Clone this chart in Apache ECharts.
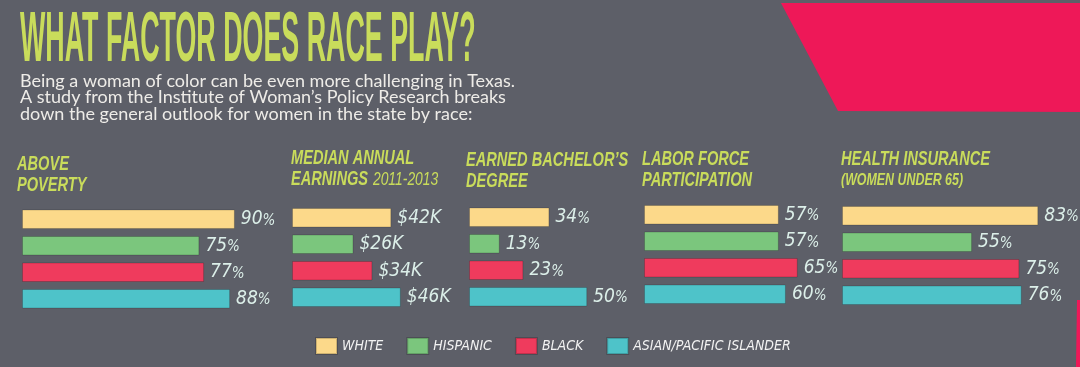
<!DOCTYPE html>
<html><head><meta charset="utf-8">
<script src="https://cdn.jsdelivr.net/npm/echarts@6/dist/echarts.min.js"></script>
<style>html,body{margin:0;padding:0;background:#5d5f68}#c{width:1080px;height:367px}</style>
</head><body><div id="c"></div>
<script>
// ---- data ----
const races = ['WHITE', 'HISPANIC', 'BLACK', 'ASIAN/PACIFIC ISLANDER'];
const raceColors = ['#fcd98a', '#7bc67d', '#ef3b5d', '#4ec3c9'];
const abovePoverty = [90, 75, 77, 88];          // %
const medianEarnings = [42, 26, 34, 46];        // $ thousands, 2011-2013
const bachelorsDegree = [34, 13, 23, 50];       // %
const laborForce = [57, 57, 65, 60];            // %
const healthInsurance = [83, 55, 75, 76];       // % (women under 65)
const panelPrefix = ['', '$', '', '', ''];
const panelSuffix = ['%', 'K', '%', '%', '%'];
const panelTitleText = [
  '{b|ABOVE}\n{b|POVERTY}',
  '{b|MEDIAN ANNUAL}\n{b|EARNINGS}  {l|2011-2013}',
  '{b|EARNED BACHELOR\u2019S}\n{b|DEGREE}',
  '{b|LABOR FORCE}\n{b|PARTICIPATION}',
  '{b|HEALTH INSURANCE}\n{s|(WOMEN UNDER 65)}'
];
const mainTitle = 'WHAT FACTOR DOES RACE PLAY?';
const subtitle = 'Being a woman of color can be even more challenging in Texas.\nA study from the Institute of Woman\u2019s Policy Research breaks\ndown the general outlook for women in the state by race:';

const panels = [abovePoverty, medianEarnings, bachelorsDegree, laborForce, healthInsurance];

// ---- layout ----
const SANS = '"Liberation Sans",Arial,sans-serif';
const COND = '"DejaVu Sans Condensed","Liberation Sans Narrow",sans-serif';
const LIME = '#c9dc5b';
const panelLeft = [22, 292, 469, 644, 842];
const panelCenter = [259, 257.5, 257, 254.5, 255.5];
const panelWidth = 236.5;
const titleX = [17, 291, 466, 642, 841];
const titleY = [154.5, 148.5, 150.5, 149, 149.5];

const titleRich = {
  b: {fontFamily: SANS, fontStyle: 'italic', fontWeight: 'bold', fontSize: 20, fill: LIME, lineHeight: 20.8},
  l: {fontFamily: SANS, fontStyle: 'italic', fontWeight: 'normal', fontSize: 19, fill: LIME, lineHeight: 20.8},
  s: {fontFamily: SANS, fontStyle: 'italic', fontWeight: 'bold', fontSize: 17, fill: LIME, lineHeight: 20.8}
};
const titleGraphics = panelTitleText.map((t, i) => ({
  type: 'text', x: titleX[i], y: titleY[i], scaleX: 0.73,
  style: {text: t, rich: titleRich, fill: LIME, verticalAlign: 'top', align: 'left'}
}));

const grids = [], xAxes = [], yAxes = [], series = [];
panels.forEach((vals, i) => {
  grids.push({left: panelLeft[i], width: panelWidth, top: panelCenter[i] - 50, height: 100});
  xAxes.push({gridIndex: i, type: 'value', min: 0, max: 100, show: false});
  yAxes.push({gridIndex: i, type: 'category', data: ['v'], show: false});
  vals.forEach((v, r) => {
    series.push({
      type: 'bar', name: races[r], xAxisIndex: i, yAxisIndex: i,
      data: [v], barWidth: 19.5, barGap: '36%',
      itemStyle: {color: raceColors[r], borderColor: 'rgba(0,0,0,0.18)', borderWidth: 1},
      label: {
        show: true, position: 'right', distance: 6,
        formatter: p => panelSuffix[i] === '%'
          ? '{n|' + panelPrefix[i] + p.value + '}{u|%}'
          : '{n|' + panelPrefix[i] + p.value + panelSuffix[i] + '}',
        rich: {
          n: {fontFamily: COND, fontStyle: 'italic', fontSize: 19, color: '#dcefe9'},
          u: {fontFamily: COND, fontStyle: 'italic', fontSize: 15, color: '#dcefe9', padding: [3, 0, 0, 0]}
        }
      }
    });
  });
});

const chart = echarts.init(document.getElementById('c'), null, {renderer: 'canvas'});
chart.setOption({
  backgroundColor: '#5d5f68',
  animation: false,
  grid: grids, xAxis: xAxes, yAxis: yAxes, series: series,
  legend: {
    data: races, left: 315, top: 337, itemWidth: 21, itemHeight: 16, itemGap: 23,
    icon: 'rect', selectedMode: false, padding: 0,
    textStyle: {color: '#f2f2f2', fontFamily: COND, fontStyle: 'italic', fontSize: 14}
  },
  graphic: [
    {type: 'polygon', shape: {points: [[781, 3], [838, 111], [1080, 112], [1080, 3]]},
      style: {fill: '#ee1858'}, z: -1},
    {type: 'polygon', shape: {points: [[1077, 300], [1080, 300], [1080, 367], [1076, 367]]},
      style: {fill: '#ee1858'}, z: -1},
    {type: 'text', x: 20, y: 77, scaleX: 0.813, scaleY: 2.15,
      style: {text: mainTitle, font: 'bold 33px ' + SANS, fill: LIME, verticalAlign: 'bottom'}},
    {type: 'text', x: 20, y: 73,
      style: {text: subtitle, font: 'normal 18px Lato', lineHeight: 16.3, fill: '#eeece8', verticalAlign: 'top'}}
  ].concat(titleGraphics)
});
</script></body></html>
